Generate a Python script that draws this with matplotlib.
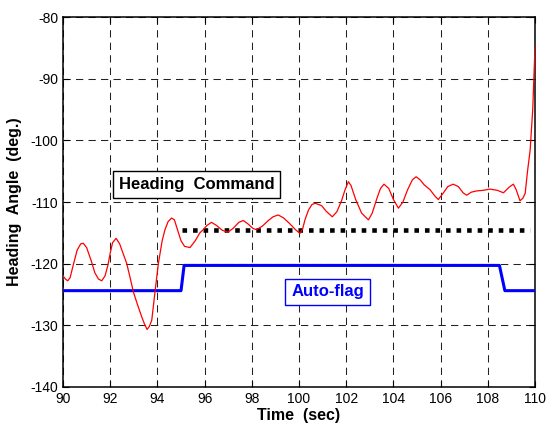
import matplotlib
matplotlib.use('Agg')
import matplotlib.pyplot as plt

plt.rcParams['font.family'] = ['Liberation Sans', 'DejaVu Sans']
plt.rcParams['axes.unicode_minus'] = False

# Heading angle (red trace)
time = [90.0, 90.1, 90.2, 90.3, 90.45, 90.6, 90.75, 90.86, 91.0, 91.2,
        91.35, 91.5, 91.64, 91.78, 91.9, 92.0, 92.1, 92.25, 92.4, 92.55,
        92.7, 92.85, 92.98, 93.15, 93.33, 93.45, 93.56, 93.66, 93.76, 93.9,
        94.04, 94.2, 94.32, 94.45, 94.6, 94.72, 94.85, 95.0, 95.15, 95.38,
        95.6, 95.8, 95.94, 96.1, 96.29, 96.5, 96.75, 96.99, 97.2, 97.45,
        97.64, 97.85, 98.05, 98.2, 98.45, 98.7, 98.9, 99.12, 99.35, 99.6,
        99.85, 100.04, 100.15, 100.25, 100.4, 100.55, 100.68, 100.96, 101.15, 101.41,
        101.6, 101.8, 101.95, 102.09, 102.2, 102.4, 102.65, 102.94, 103.1, 103.3,
        103.45, 103.6, 103.8, 104.0, 104.21, 104.4, 104.6, 104.8, 104.96, 105.13,
        105.3, 105.55, 105.75, 105.9, 106.1, 106.3, 106.53, 106.75, 106.95, 107.1,
        107.3, 107.52, 107.8, 108.09, 108.4, 108.66, 108.9, 109.08, 109.2, 109.36,
        109.48, 109.58, 109.68, 109.79, 109.9, 110.0]
heading = [-122.0, -122.5, -122.8, -122.3, -120.0, -117.8, -116.8, -116.7, -117.4, -119.6,
           -121.5, -122.5, -122.8, -122.0, -120.3, -118.3, -116.6, -115.9, -116.8, -118.4,
           -120.0, -122.4, -124.6, -126.6, -128.6, -129.8, -130.7, -130.2, -129.2, -124.5,
           -120.0, -116.3, -114.5, -113.2, -112.6, -112.9, -114.5, -116.3, -117.2, -117.4,
           -116.3, -115.0, -114.5, -113.8, -113.3, -113.8, -114.6, -114.9, -114.3, -113.3,
           -113.0, -113.6, -114.3, -114.5, -113.9, -113.0, -112.4, -112.1, -112.6, -113.5,
           -114.5, -115.1, -114.4, -112.9, -111.3, -110.4, -110.2, -110.6, -111.5, -112.4,
           -111.6, -109.8, -108.0, -106.7, -107.3, -109.6, -111.8, -112.9, -111.8, -109.4,
           -107.8, -107.1, -107.8, -109.6, -111.0, -110.0, -108.0, -106.4, -105.9, -106.4,
           -107.2, -108.0, -109.0, -109.6, -108.6, -107.5, -107.1, -107.5, -108.5, -108.9,
           -108.4, -108.2, -108.1, -107.9, -108.1, -108.5, -107.6, -107.1, -108.0, -109.8,
           -109.4, -108.6, -105.0, -101.6, -95.0, -84.5]

# Heading command (black dotted)
cmd_time = [95.03, 109.8]
cmd_value = [-114.5, -114.5]

# Auto-flag (blue step)
flag_time = [90.0, 95.0, 95.13, 108.49, 108.72, 110.0]
flag_value = [-124.4, -124.4, -120.3, -120.3, -124.4, -124.4]

fig = plt.figure(figsize=(5.46, 4.30), dpi=100)
ax = fig.add_axes([0.1154, 0.1007, 0.8646, 0.8590])

ax.plot(flag_time, flag_value, color='#0000ff', lw=2.2, zorder=3)
ax.plot(cmd_time, cmd_value, color='black', lw=3.3, linestyle=(0, (1, 1.3)), zorder=3)
ax.plot(time, heading, color='#ff0000', lw=0.9, zorder=4)

ax.set_xlim(90, 110)
ax.set_ylim(-140, -80)
ax.set_xticks(range(90, 111, 2))
ax.set_yticks(range(-140, -79, 10))
ax.grid(True, color='#222222', linestyle=(0, (7, 5)), lw=0.75)
ax.tick_params(direction='in', length=4, top=True, right=True, labelsize=10, width=0.8)
for s in ax.spines.values():
    s.set_linewidth(1.1)

ax.set_xlabel('Time  (sec)', fontsize=11.5, fontweight='bold', labelpad=2)
ax.set_ylabel('Heading  Angle  (deg.)', fontsize=11.5, fontweight='bold', labelpad=6)

ax.text(95.66, -107.2, 'Heading  Command', ha='center', va='center', fontsize=12,
        fontweight='bold', color='black', zorder=5,
        bbox=dict(boxstyle='square,pad=0.35', facecolor='white', edgecolor='black', lw=1))
ax.text(101.21, -124.6, 'Auto-flag', ha='center', va='center', fontsize=12,
        fontweight='bold', color='#0000ff', zorder=5,
        bbox=dict(boxstyle='square,pad=0.35', facecolor='white', edgecolor='#0000ff', lw=1))

fig.savefig('out.png', dpi=100)
